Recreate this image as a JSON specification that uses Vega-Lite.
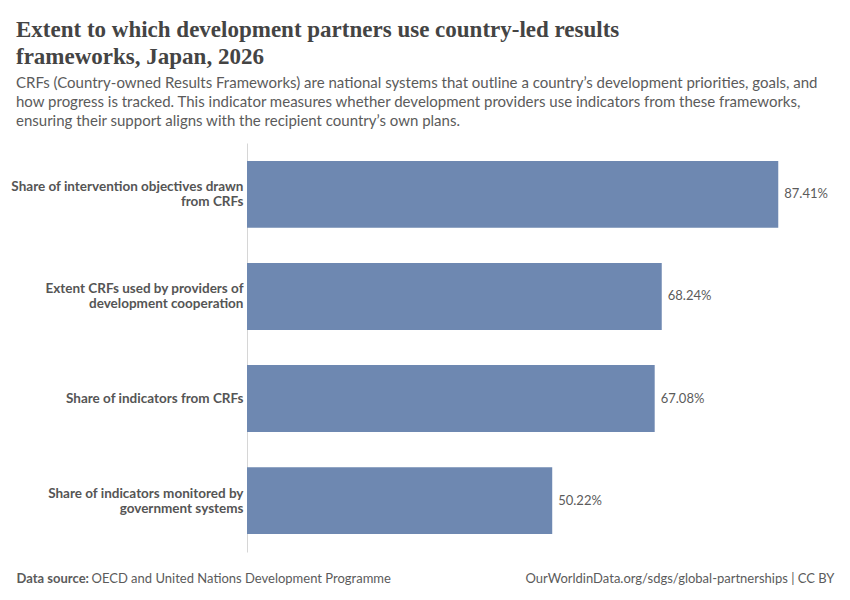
{
  "$schema": "https://vega.github.io/schema/vega-lite/v6.json",
  "autosize": {"type": "none"},
  "width": 547,
  "height": 409,
  "padding": {"left": 247, "top": 143, "right": 56, "bottom": 48},
  "background": "white",
  "title": {
    "text": ["Extent to which development partners use country-led results", "frameworks, Japan, 2026"],
    "subtitle": ["CRFs (Country-owned Results Frameworks) are national systems that outline a country’s development priorities, goals, and", "how progress is tracked. This indicator measures whether development providers use indicators from these frameworks,", "ensuring their support aligns with the recipient country’s own plans."],
    "anchor": "start",
    "frame": "group",
    "dx": -231,
    "offset": 14,
    "font": "Liberation Serif",
    "fontSize": 23,
    "fontWeight": "bold",
    "lineHeight": 27,
    "color": "#444444",
    "subtitleFont": "Lato",
    "subtitleFontSize": 15,
    "subtitleLineHeight": 19,
    "subtitleColor": "#5b5b5b",
    "subtitlePadding": 7
  },
  "data": {
    "values": [
      {"indicator": "Share of intervention objectives drawn from CRFs", "value": 0.8741},
      {"indicator": "Extent CRFs used by providers of development cooperation", "value": 0.6824},
      {"indicator": "Share of indicators from CRFs", "value": 0.6708},
      {"indicator": "Share of indicators monitored by government systems", "value": 0.5022}
    ]
  },
  "encoding": {
    "y": {
      "field": "indicator",
      "type": "nominal",
      "sort": null,
      "scale": {"paddingInner": 0.345, "paddingOuter": 0.176},
      "axis": {
        "title": "OurWorldinData.org/sdgs/global-partnerships | CC BY",
        "titleAngle": 0,
        "titleX": 587,
        "titleY": 439,
        "titleAlign": "right",
        "titleBaseline": "alphabetic",
        "titleFont": "Lato",
        "titleFontSize": 13,
        "titleFontWeight": "normal",
        "titleColor": "#5b5b5b",
        "domain": true,
        "domainColor": "#d6d6d6",
        "ticks": false,
        "grid": false,
        "labelPadding": 4,
        "labelFont": "Lato",
        "labelFontSize": 13.5,
        "labelFontWeight": "bold",
        "labelColor": "#555555",
        "labelLineHeight": 15,
        "labelLimit": 300,
        "labelOffset": {"condition": {"test": "datum.value != 'Share of indicators from CRFs'", "value": -7}, "value": 0},
        "labelExpr": "datum.value == 'Share of intervention objectives drawn from CRFs' ? ['Share of intervention objectives drawn', 'from CRFs'] : datum.value == 'Extent CRFs used by providers of development cooperation' ? ['Extent CRFs used by providers of', 'development cooperation'] : datum.value == 'Share of indicators monitored by government systems' ? ['Share of indicators monitored by', 'government systems'] : datum.label"
      }
    },
    "x": {
      "field": "value",
      "type": "quantitative",
      "scale": {"domain": [0, 0.9], "nice": false}
    }
  },
  "layer": [
    {
      "mark": {"type": "bar", "color": "#6e88b1"},
      "encoding": {
        "x": {
          "field": "value",
          "type": "quantitative",
          "axis": {
            "orient": "bottom",
            "title": "Data source:",
            "titleX": -231,
            "titleY": 30,
            "titleAlign": "left",
            "titleAnchor": "start",
            "titleBaseline": "alphabetic",
            "titleFont": "Lato",
            "titleFontSize": 13,
            "titleFontWeight": "bold",
            "titleColor": "#5b5b5b",
            "labels": false,
            "ticks": false,
            "domain": false,
            "grid": false
          }
        }
      }
    },
    {
      "mark": {"type": "text", "align": "left", "dx": 6, "font": "Lato", "fontSize": 13, "color": "#5b5b5b"},
      "encoding": {
        "x": {
          "field": "value",
          "type": "quantitative",
          "axis": {
            "orient": "bottom",
            "title": "OECD and United Nations Development Programme",
            "titleX": -156,
            "titleY": 30,
            "titleAlign": "left",
            "titleAnchor": "start",
            "titleBaseline": "alphabetic",
            "titleFont": "Lato",
            "titleFontSize": 13,
            "titleFontWeight": "normal",
            "titleColor": "#5b5b5b",
            "labels": false,
            "ticks": false,
            "domain": false,
            "grid": false
          }
        },
        "text": {"field": "value", "type": "quantitative", "format": ".2%"}
      }
    }
  ],
  "resolve": {"axis": {"x": "independent"}},
  "config": {"view": {"stroke": null}}
}
